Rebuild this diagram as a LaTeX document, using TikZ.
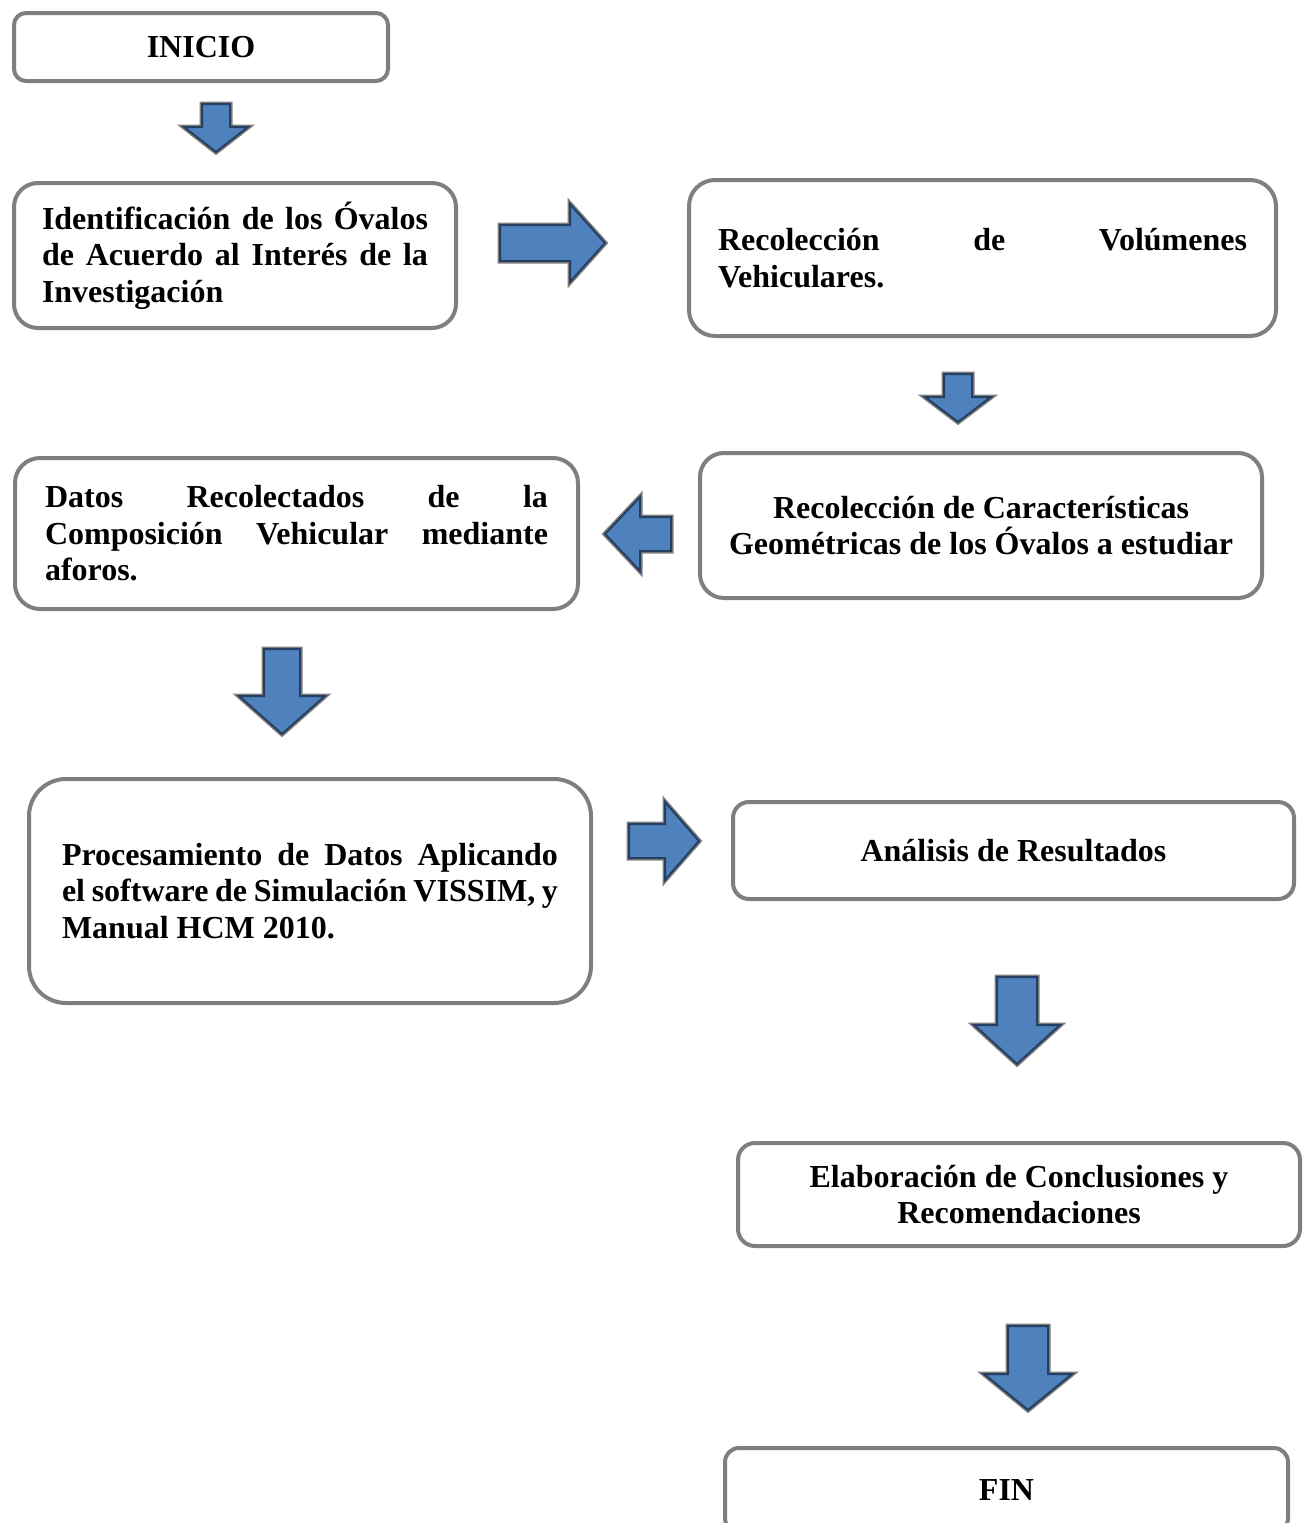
\documentclass[tikz,border=0pt]{standalone}
\usepackage{fontspec}
\setmainfont{Liberation Serif}
\definecolor{bordegris}{HTML}{7F7F7F}
\definecolor{azulflecha}{HTML}{4F81BD}
\definecolor{azulborde}{HTML}{243F60}
\begin{document}
\begin{tikzpicture}[
    x=1pt, y=-1pt,
    etapa/.style={draw=bordegris, line width=4pt, rectangle, fill=white, inner sep=0pt,
        font=\bfseries\fontsize{32}{36.5}\selectfont},
    justo/.style={etapa, align=justify},
    centrado/.style={etapa, align=center},
    blockarrow/.style={fill=azulflecha, draw=azulborde, line width=2pt, line join=miter,
        preaction={draw=bordegris, line width=5pt}},
]
\useasboundingbox (0,0) rectangle (1307,1523);
\clip (0,0) rectangle (1307,1523);

% Etapas
\node[centrado, minimum width=374pt, minimum height=68pt, rounded corners=12pt] (inicio) at (201,47) {INICIO};
\node[justo, minimum width=442pt, minimum height=145pt, rounded corners=24pt, text width=386pt] (identificacion) at (235,255.5)
    {Identificación de los Óvalos\linebreak de Acuerdo al Interés de la\linebreak Investigación};
\node[justo, minimum width=587pt, minimum height=156pt, rounded corners=26pt, text width=529pt] (volumenes) at (982.5,258)
    {Recolección de Volúmenes\linebreak Vehiculares.};
\node[centrado, minimum width=562pt, minimum height=145pt, rounded corners=24pt] (geometria) at (981,525.5)
    {Recolección de Características\\Geométricas de los Óvalos a estudiar};
\node[justo, minimum width=563pt, minimum height=151pt, rounded corners=25pt, text width=503pt] (datos) at (296.5,533.5)
    {Datos Recolectados de la\linebreak Composición Vehicular mediante\linebreak aforos.};
\node[justo, minimum width=562pt, minimum height=224pt, rounded corners=37pt, text width=496pt] (procesamiento) at (310,891)
    {Procesamiento de Datos Aplicando\linebreak el software de Simulación VISSIM, y\linebreak Manual HCM 2010.};
\node[centrado, minimum width=561pt, minimum height=97pt, rounded corners=16pt] (analisis) at (1013.5,850.5)
    {Análisis de Resultados};
\node[centrado, minimum width=562pt, minimum height=103pt, rounded corners=17pt] (conclusiones) at (1019,1194.5)
    {Elaboración de Conclusiones y\\Recomendaciones};
\node[centrado, minimum width=563pt, minimum height=84pt, rounded corners=14pt] (fin) at (1006.5,1490) {FIN};

% Flechas de bloque
\draw[blockarrow] (202,104) -- (230,104) -- (230,127) -- (248,127) -- (216,152) -- (184,127) -- (202,127) -- cycle;
\draw[blockarrow] (500,225) -- (570,225) -- (570,204) -- (605,243) -- (570,282) -- (570,261) -- (500,261) -- cycle;
\draw[blockarrow] (944,374) -- (972,374) -- (972,397) -- (991,397) -- (958,422) -- (925,397) -- (944,397) -- cycle;
\draw[blockarrow] (671,517) -- (640,517) -- (640,497) -- (605,534) -- (640,571) -- (640,551) -- (671,551) -- cycle;
\draw[blockarrow] (264,649) -- (300,649) -- (300,696) -- (325,696) -- (282,734) -- (239,696) -- (264,696) -- cycle;
\draw[blockarrow] (629,824) -- (665,824) -- (665,802) -- (699,841) -- (665,880) -- (665,858) -- (629,858) -- cycle;
\draw[blockarrow] (997,977) -- (1037,977) -- (1037,1025) -- (1060,1025) -- (1017,1064) -- (974,1025) -- (997,1025) -- cycle;
\draw[blockarrow] (1008,1326) -- (1048,1326) -- (1048,1374) -- (1072,1374) -- (1028,1410) -- (984,1374) -- (1008,1374) -- cycle;

\end{tikzpicture}
\end{document}
